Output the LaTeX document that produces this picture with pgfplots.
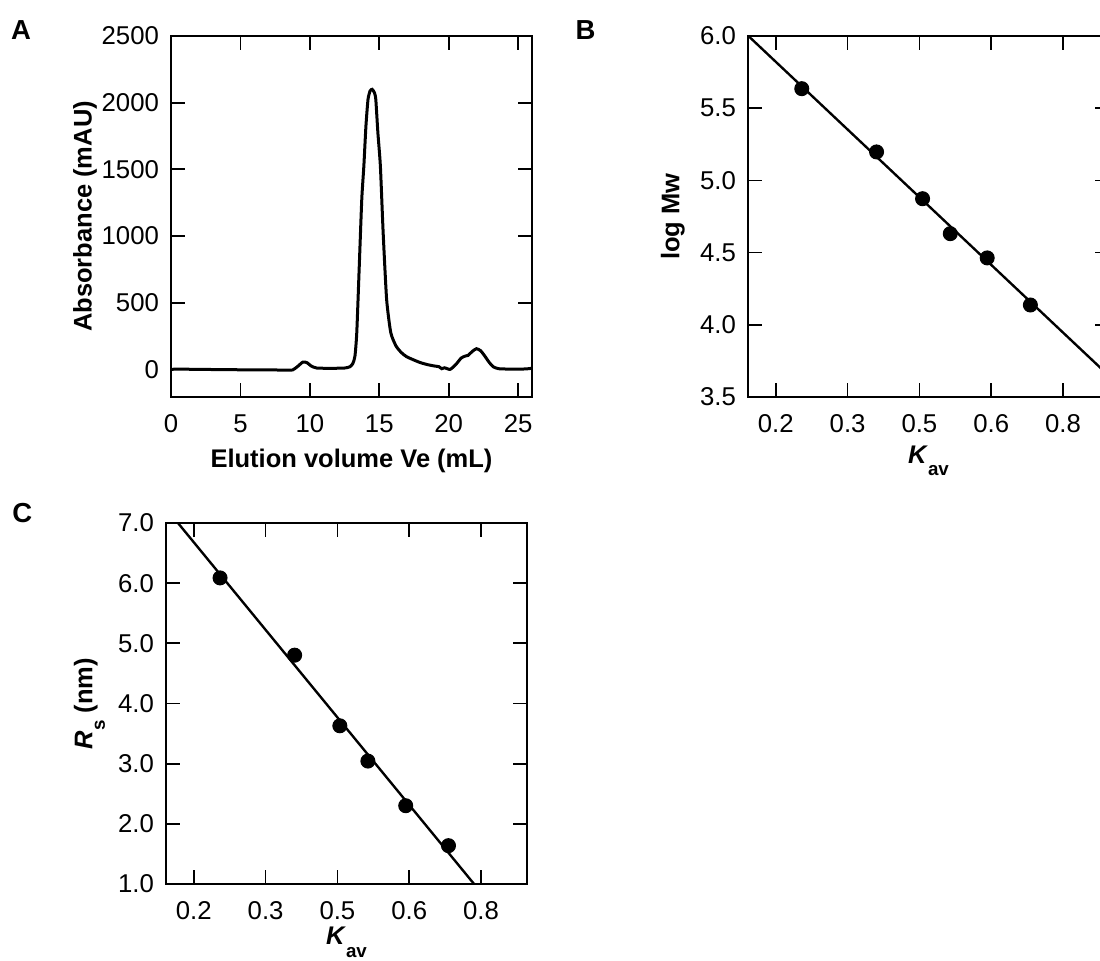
\documentclass[border=0pt]{standalone}
\usepackage{fontspec}
\setmainfont{Liberation Sans}
\usepackage{pgfplots}
\pgfplotsset{compat=1.18}

\newcommand{\lblfont}{\fontsize{10.2}{12}\selectfont\bfseries}

\pgfplotsset{
  panel/.style={
    scale only axis, width=144.4pt, height=144.4pt, anchor=south west,
    axis line style={line width=0.7pt},
    tick style={black, line width=0.7pt},
    major tick length=5.6pt,
    tick align=inside,
    xtick pos=both, ytick pos=both,
    ticklabel style={font=\fontsize{10.3}{12}\selectfont},
    /pgf/number format/assume math mode=true,
    /pgf/number format/1000 sep={},
    xticklabel style={yshift=-3.5pt},
    yticklabel style={xshift=-1.3pt},
  },
  kav/.style={
    xmin=0.142, xmax=0.896,
    xtick={0.2,0.35,0.5,0.65,0.8}, xticklabels={0.2,0.3,0.5,0.6,0.8},
    /pgf/number format/fixed, /pgf/number format/fixed zerofill,
    /pgf/number format/precision=1,
    xlabel={\textit{K}\raisebox{-5pt}{\fontsize{7.5}{9}\selectfont\bfseries av}},
  },
}

\begin{document}
\begin{tikzpicture}
% A: elution profile
\begin{axis}[panel, at={(68.4pt,225.6pt)},
  xmin=0, xmax=26, ymin=-207, ymax=2500,
  xtick={0,5,...,25}, ytick={0,500,...,2500},
  xlabel={Elution volume Ve (mL)}, ylabel={Absorbance (mAU)},
  every axis x label/.style={at={(axis description cs:0.5,-0.194)}, anchor=base, font=\lblfont},
  every axis y label/.style={at={(axis description cs:-0.238,0.5)}, rotate=90, anchor=center, font=\lblfont},
]
\addplot[black, line width=1.2pt, smooth, tension=0.35] coordinates {
 (0,0) (0.5,2) (2,0) (5,-3) (8.5,-5) (8.8,-2) (9.1,20) (9.5,55) (9.8,50)
 (10.1,25) (10.5,10) (11.5,8) (12.5,10) (12.9,20) (13.1,45) (13.25,100)
 (13.38,275) (13.56,775) (13.74,1275) (13.89,1525) (14.04,1825) (14.19,2025)
 (14.34,2088) (14.49,2100) (14.65,2075) (14.75,2025) (14.9,1775) (15.08,1525)
 (15.28,1025) (15.53,525) (15.83,275) (16.21,175) (16.6,125) (16.97,95)
 (17.5,70) (17.98,50) (18.5,35) (18.99,25) (19.3,20) (19.5,5) (19.7,12)
 (20.1,0) (20.5,35) (20.9,85) (21.2,100) (21.4,105) (21.7,135) (22.0,155)
 (22.3,140) (22.6,100) (22.9,55) (23.2,20) (23.6,5) (24.5,2) (25.5,3) (26,8)
};
\end{axis}

% B: log Mw vs Kav
\begin{axis}[panel, kav, at={(299.2pt,225.6pt)},
  ymin=3.5, ymax=6.0, ytick={3.5,4,4.5,5,5.5,6},
  ylabel={log Mw},
  every axis x label/.style={at={(axis description cs:0.5,-0.183)}, anchor=base, font=\lblfont},
  every axis y label/.style={at={(axis description cs:-0.208,0.5)}, rotate=90, anchor=center, font=\lblfont},
]
\addplot[black, line width=0.95pt] coordinates {(0.1428,6.0) (0.896,3.646)};
\addplot[only marks, mark=*, mark size=2.8pt, black] coordinates {
 (0.2543,5.635) (0.4105,5.197) (0.5066,4.873) (0.5645,4.631) (0.6416,4.463) (0.7318,4.137)
};
\end{axis}

% C: Rs vs Kav
\begin{axis}[panel, kav, at={(66.4pt,30.8pt)},
  ymin=1, ymax=7, ytick={1,2,...,7},
  ylabel={\textit{R}\raisebox{-5pt}{\fontsize{7.5}{9}\selectfont\bfseries s} (nm)},
  every axis x label/.style={at={(axis description cs:0.5,-0.168)}, anchor=base, font=\lblfont},
  every axis y label/.style={at={(axis description cs:-0.212,0.5)}, rotate=90, anchor=center, font=\lblfont},
]
\addplot[black, line width=0.95pt] coordinates {(0.167,7.0) (0.7854,1.0)};
\addplot[only marks, mark=*, mark size=2.8pt, black] coordinates {
 (0.2549,6.087) (0.4107,4.803) (0.5051,3.629) (0.5637,3.043) (0.6427,2.301) (0.7320,1.637)
};
\end{axis}

\node[anchor=base west, inner sep=0, font=\fontsize{11}{13}\selectfont\bfseries] at (4.2pt,368.4pt) {A};
\node[anchor=base west, inner sep=0, font=\fontsize{11}{13}\selectfont\bfseries] at (230pt,368.4pt) {B};
\node[anchor=base west, inner sep=0, font=\fontsize{11}{13}\selectfont\bfseries] at (4.8pt,175.2pt) {C};

\pgfresetboundingbox
\path[use as bounding box] (0,0) rectangle (440pt,384.4pt);
\end{tikzpicture}
\end{document}
